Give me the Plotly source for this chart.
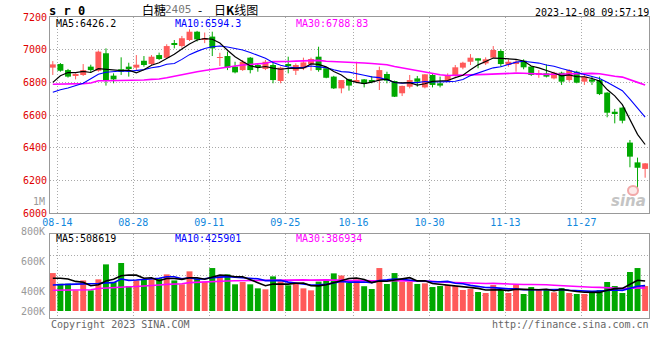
import pandas as pd
import plotly.graph_objects as go

# ---------------- data ----------------
holidays = pd.date_range("2023-09-29", "2023-10-06")
dates = [d for d in pd.bdate_range("2023-08-14", "2023-12-08") if d not in holidays]
date_labels = [d.strftime("%m-%d") for d in dates]

opens = [6890, 6912, 6875, 6841, 6845, 6896, 6871, 6978, 6841, 6880,
         6896, 6890, 6932, 6912, 6967, 6950, 7036, 7022, 7059, 7110,
         7060, 7080, 6950, 6961, 6896, 6875, 6951, 6904, 6882, 6906,
         6808, 6910, 6871, 6886, 6912, 6957, 6886, 6835, 6763, 6820,
         6808, 6818, 6812, 6814, 6851, 6808, 6733, 6773, 6824, 6769,
         6845, 6794, 6810, 6839, 6890, 6926, 6947, 6916, 6951, 6992,
         6906, 6912, 6933, 6896, 6845, 6855, 6824, 6859, 6814, 6865,
         6804, 6818, 6814, 6737, 6620, 6645, 6431, 6310, 6270]
highs = [6930, 6918, 6882, 6855, 6912, 6908, 6995, 7008, 6855, 6953,
         6920, 6967, 6961, 6967, 6982, 7033, 7059, 7084, 7125, 7115,
         7105, 7110, 6981, 6988, 6926, 6937, 6955, 6916, 6937, 6926,
         6896, 6957, 6916, 6951, 6951, 7018, 6890, 6840, 6814, 6822,
         6926, 6820, 6839, 6896, 6865, 6810, 6780, 6845, 6839, 6850,
         6850, 6835, 6855, 6906, 6926, 6973, 6947, 6953, 7022, 7002,
         6941, 6941, 6941, 6900, 6875, 6910, 6865, 6865, 6880, 6871,
         6845, 6839, 6835, 6740, 6637, 6647, 6447, 6339, 6306]
lows = [6845, 6865, 6829, 6818, 6839, 6859, 6865, 6780, 6794, 6845,
        6835, 6875, 6896, 6906, 6937, 6945, 7008, 7012, 7053, 7050,
        7040, 6961, 6900, 6875, 6855, 6870, 6855, 6865, 6875, 6794,
        6794, 6855, 6845, 6875, 6871, 6865, 6825, 6759, 6733, 6749,
        6794, 6769, 6794, 6753, 6794, 6710, 6716, 6763, 6773, 6763,
        6769, 6769, 6804, 6835, 6880, 6906, 6886, 6906, 6951, 6896,
        6896, 6865, 6880, 6839, 6828, 6830, 6818, 6784, 6804, 6794,
        6784, 6784, 6722, 6586, 6549, 6549, 6280, 6151, 6216]
closes = [6910, 6871, 6835, 6845, 6875, 6875, 6988, 6814, 6818, 6865,
          6886, 6908, 6906, 6957, 6943, 7022, 7030, 7070, 7110, 7063,
          7068, 7008, 6955, 6890, 6861, 6926, 6875, 6896, 6926, 6814,
          6890, 6902, 6906, 6922, 6943, 6875, 6828, 6763, 6814, 6780,
          6812, 6790, 6808, 6875, 6810, 6712, 6778, 6814, 6804, 6849,
          6784, 6780, 6839, 6892, 6920, 6951, 6933, 6941, 6998, 6912,
          6926, 6926, 6892, 6845, 6855, 6835, 6859, 6804, 6875, 6798,
          6835, 6804, 6728, 6614, 6606, 6565, 6345, 6277, 6304]
volumes_k = [641, 461, 461, 349, 517, 349, 535, 788, 490, 811,
             422, 517, 529, 535, 552, 619, 517, 451, 670, 552,
             496, 726, 602, 619, 451, 490, 451, 383, 366, 585,
             501, 434, 461, 383, 349, 496, 535, 636, 600, 477,
             535, 419, 372, 726, 456, 641, 496, 496, 457, 467,
             405, 422, 439, 422, 355, 372, 321, 304, 439, 355,
             304, 439, 287, 405, 355, 355, 315, 389, 304, 287,
             287, 337, 355, 490, 422, 304, 659, 726, 422]

ma5_head = [6800, 6840, 6860, 6860]
ma10_head = [6739, 6755, 6765, 6778, 6795, 6822, 6850, 6862, 6866]
ma30_head = [6788, 6788, 6788, 6790, 6792, 6796, 6810, 6810, 6810, 6811,
             6812, 6812, 6814, 6818, 6820, 6828, 6838, 6848, 6856, 6865,
             6872, 6880, 6886, 6893, 6900, 6906, 6910, 6914, 6917]
vma5_head_k = [553, 553, 540, 500]
vma10_head_k = [439, 439, 450, 455, 455, 460, 465, 475, 480]
vma30_head_k = [350, 350, 352, 352, 355, 358, 380, 390, 395, 405,
                410, 415, 420, 425, 440, 450, 455, 460, 480, 488,
                492, 500, 505, 508, 510, 512, 515, 518, 522]

tick_labels = ["08-14", "08-28", "09-11", "09-25", "10-16", "10-30", "11-13", "11-27"]
price_ticks = [6000, 6200, 6400, 6600, 6800, 7000, 7200]
vol_labels = ["800K", "600K", "400K", "200K"]

header_code = "s r 0"
title_name = "白糖"
title_contract = "2405"
title_dash = "-"
title_rest = "日<b>K</b>线图"
stamp = "2023-12-08 09:57:19"
ma_price_text = ["MA5:6426.2", "MA10:6594.3", "MA30:6788.83"]
ma_vol_text = ["MA5:508619", "MA10:425901", "MA30:386934"]

# ---------------- derived ----------------
RED = "#ff5a5a"
GREEN = "#00a800"
n = len(dates)
xs = list(range(n))
volumes = [v * 1000 for v in volumes_k]
cs = pd.Series(closes, dtype=float)
vs = pd.Series(volumes, dtype=float)


def ma(series, w, head):
    m = series.rolling(w).mean().tolist()
    for i, h in enumerate(head):
        m[i] = h
    return m


ma5 = ma(cs, 5, ma5_head)
ma10 = ma(cs, 10, ma10_head)
ma30 = ma(cs, 30, ma30_head)
vma5 = ma(vs, 5, [h * 1000 for h in vma5_head_k])
vma10 = ma(vs, 10, [h * 1000 for h in vma10_head_k])
vma30 = ma(vs, 30, [h * 1000 for h in vma30_head_k])

up = [c >= o for o, c in zip(opens, closes)]
colors = [RED if u else GREEN for u in up]
body_base = [min(o, c) for o, c in zip(opens, closes)]
body_h = [max(abs(c - o), 5) for o, c in zip(opens, closes)]

fig = go.Figure()

# wicks
for flag, col in ((True, RED), (False, GREEN)):
    wx, wy = [], []
    for i in xs:
        if up[i] == flag:
            wx += [i, i, None]
            wy += [lows[i], highs[i], None]
    fig.add_trace(go.Scatter(x=wx, y=wy, mode="lines", line=dict(color=col, width=1),
                             xaxis="x", yaxis="y", hoverinfo="skip"))

# bodies
fig.add_trace(go.Bar(x=xs, y=body_h, base=body_base, width=0.78,
                     marker=dict(color=colors, line=dict(width=0)),
                     xaxis="x", yaxis="y", hoverinfo="skip"))

# price MAs
fig.add_trace(go.Scatter(x=xs, y=ma30, mode="lines", line=dict(color="#ff00ff", width=1.6),
                         xaxis="x", yaxis="y", hoverinfo="skip"))
fig.add_trace(go.Scatter(x=xs, y=ma10, mode="lines", line=dict(color="#0000ff", width=1.1),
                         xaxis="x", yaxis="y", hoverinfo="skip"))
fig.add_trace(go.Scatter(x=xs, y=ma5, mode="lines", line=dict(color="#000000", width=1.2),
                         xaxis="x", yaxis="y", hoverinfo="skip"))

# volume
fig.add_trace(go.Bar(x=xs, y=volumes, width=0.78,
                     marker=dict(color=colors, line=dict(width=0)),
                     xaxis="x2", yaxis="y2", hoverinfo="skip"))
fig.add_trace(go.Scatter(x=xs, y=vma30, mode="lines", line=dict(color="#ff00ff", width=1.6),
                         xaxis="x2", yaxis="y2", hoverinfo="skip"))
fig.add_trace(go.Scatter(x=xs, y=vma10, mode="lines", line=dict(color="#0000ff", width=1.6),
                         xaxis="x2", yaxis="y2", hoverinfo="skip"))
fig.add_trace(go.Scatter(x=xs, y=vma5, mode="lines", line=dict(color="#000000", width=1.6),
                         xaxis="x2", yaxis="y2", hoverinfo="skip"))

# ---------------- layout ----------------
W, H = 660, 360
L, R, T, B = 50, 11, 17, 42
PW, PH = W - L - R, H - T - B


def px(x):
    return (x - L) / PW


def py(y):
    return (H - B - y) / PH


grid_pos = [date_labels.index(t) + 0.6 for t in tick_labels]
xrange_ = [-0.37, 78.51]
GRID = "#aaaaaa"
MONO = "DejaVu Sans Mono"

common_x = dict(range=xrange_, tickvals=grid_pos, showgrid=True, gridcolor=GRID,
                griddash="1px,2px", gridwidth=1, zeroline=False, showline=True,
                linecolor="#999999", linewidth=1, mirror=True, ticks="", fixedrange=True)

vol_px_per_unit = 16900.0  # volume units per pixel
vol_top_px, vol_bot_px, vol_base_px = 234, 318, 311

fig.update_layout(
    width=W, height=H, margin=dict(l=L, r=R, t=T, b=B),
    paper_bgcolor="white", plot_bgcolor="white", showlegend=False,
    barmode="overlay", hovermode=False,
    xaxis=dict(domain=[0, 1], anchor="y", ticktext=tick_labels,
               tickfont=dict(family=MONO, size=10, color="#1188dd"), **common_x),
    yaxis=dict(domain=[py(213), 1], range=[6000, 7200], tickvals=price_ticks,
               tickfont=dict(family=MONO, size=10, color="#e00000"),
               showgrid=True, gridcolor=GRID, griddash="1px,2px", zeroline=False,
               showline=True, linecolor="#999999", linewidth=1, mirror=True, ticks="",
               fixedrange=True),
    xaxis2=dict(domain=[0, 1], anchor="y2", showticklabels=False, **common_x),
    yaxis2=dict(domain=[0, py(vol_top_px)],
                range=[-(vol_bot_px - vol_base_px) * vol_px_per_unit,
                       (vol_base_px - vol_top_px) * vol_px_per_unit],
                tickvals=[(vol_base_px - p) * vol_px_per_unit for p in (255, 275, 295)],
                showticklabels=False, showgrid=True, gridcolor=GRID, griddash="1px,2px",
                zeroline=False, showline=True, linecolor="#999999", linewidth=1,
                mirror=True, ticks="", fixedrange=True),
)

ann = []


def text(x, y, s, color="#000", size=10, xa="left", family=MONO, bold=False):
    if bold:
        s = "<b>" + s + "</b>"
    ann.append(dict(x=px(x), y=py(y), xref="paper", yref="paper", text=s, showarrow=False,
                    xanchor=xa, yanchor="middle", font=dict(family=family, size=size, color=color)))


CJK = "Noto Sans CJK SC"
text(47, 11, header_code, size=12, bold=True)
text(140, 9, title_name, size=12, family=CJK)
text(163, 9, title_contract, "#777777", size=11, family=MONO)
text(196, 9, title_dash, size=12, family=CJK)
text(212, 9, title_rest, size=12, family=CJK)
text(651, 12, stamp, xa="right")
text(54, 23.5, ma_price_text[0], "#000000")
text(173, 23.5, ma_price_text[1], "#0000ff")
text(294, 23.5, ma_price_text[2], "#ff00ff")
text(54, 238.5, ma_vol_text[0], "#000000")
text(173, 238.5, ma_vol_text[1], "#0000ff")
text(294, 238.5, ma_vol_text[2], "#ff00ff")
text(47, 201, "1M", "#999999", xa="right")
for lab, yy in zip(vol_labels, (231, 261, 291, 311)):
    text(47, yy, lab, "#999999", xa="right")
text(49, 324, "Copyright 2023 SINA.COM", "#666666")
text(651, 324, "http://finance.sina.com.cn", "#666666", xa="right")
ann.append(dict(x=px(648), y=py(201), xref="paper", yref="paper",
                text="<b><i>sina</i></b>", showarrow=False, xanchor="right", yanchor="middle",
                font=dict(family="DejaVu Sans", size=15, color="#c4c4c4")))
fig.update_layout(annotations=ann)
fig.add_shape(type="circle", xref="paper", yref="paper",
              x0=px(628), x1=px(638), y0=py(195), y1=py(186),
              line=dict(color="#f2a8a8", width=2), fillcolor="rgba(242,168,168,0.25)")

fig.write_html("out.html")
